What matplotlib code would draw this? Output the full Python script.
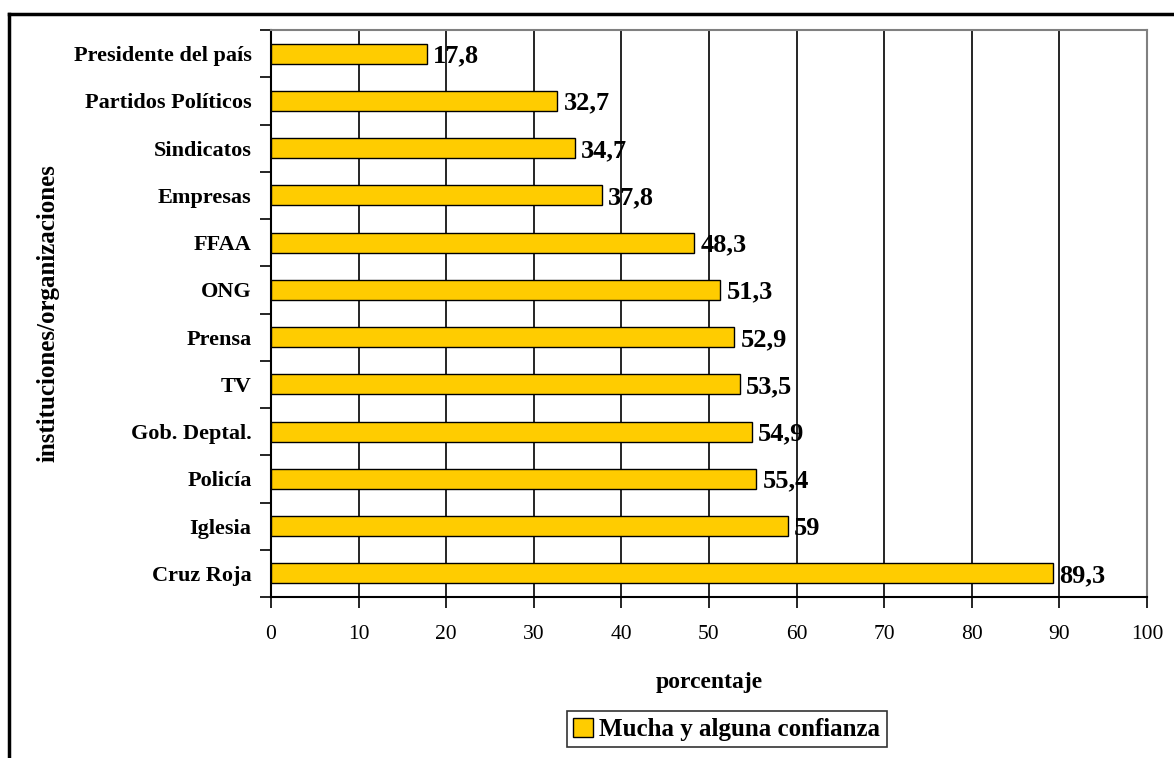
import numpy as np
import matplotlib.pyplot as plt
from matplotlib.lines import Line2D

###############################################################################
# Data: confidence in institutions (percent)
categorias = ["Presidente del país", "Partidos Políticos", "Sindicatos",
              "Empresas", "FFAA", "ONG", "Prensa", "TV", "Gob. Deptal.",
              "Policía", "Iglesia", "Cruz Roja"]
valores = [17.8, 32.7, 34.7, 37.8, 48.3, 51.3, 52.9, 53.5, 54.9, 55.4, 59, 89.3]
xticks = [0, 10, 20, 30, 40, 50, 60, 70, 80, 90, 100]
serie = "Mucha y alguna confianza"

###############################################################################
plt.rcParams['font.family'] = ['Liberation Serif', 'DejaVu Serif']

fig = plt.figure(figsize=(11.74, 7.58), dpi=100)
ax = fig.add_axes([0.2308, 0.2124, 0.7462, 0.7480])

y = np.arange(len(categorias))
ax.barh(y, valores, height=0.42, color="#FFCC00", edgecolor="black",
        linewidth=1.0, label=serie, zorder=3)

# value labels with decimal comma
for yi, v in zip(y, valores):
    txt = f"{v:g}".replace(".", ",")
    ax.text(v + 0.7, yi + 0.05, txt, va="center", ha="left",
            fontsize=19, fontweight="bold", zorder=4)

ax.set_xlim(0, 100)
ax.set_ylim(len(categorias) - 0.5, -0.5)

# x axis
ax.set_xticks(xticks)
ax.set_xticklabels([str(t) for t in xticks], fontsize=15.5)
ax.tick_params(axis="x", direction="out", length=8, width=1.2, pad=12)
ax.xaxis.grid(True, color="black", linewidth=1.2, zorder=0)
ax.set_xlabel("porcentaje", fontsize=17, fontweight="bold", labelpad=20)

# y axis: ticks on the boundaries, labels centred on the bars
ax.set_yticks(np.arange(len(categorias) + 1) - 0.5)
ax.set_yticklabels([])
ax.tick_params(axis="y", which="major", direction="out", length=8, width=1.2)
ax.set_yticks(y, minor=True)
ax.set_yticklabels(categorias, minor=True, fontsize=16, fontweight="bold")
ax.tick_params(axis="y", which="minor", length=0, pad=14)
ax.set_ylabel("instituciones/organizaciones", fontsize=18,
              fontweight="bold", labelpad=10)

for side in ("left", "bottom"):
    ax.spines[side].set_linewidth(1.5)
    ax.spines[side].set_color("black")
for side in ("top", "right"):
    ax.spines[side].set_linewidth(1.5)
    ax.spines[side].set_color("#808080")

# legend below the chart
leg = fig.legend(loc="center", bbox_to_anchor=(0.619, 0.038), frameon=True,
                 fancybox=False, edgecolor="black", handlelength=0.8,
                 handleheight=0.8, handletextpad=0.25, borderpad=0.25,
                 prop={"size": 18, "weight": "bold"})
leg.get_frame().set_linewidth(1.2)

# outer frame (top and left edges)
fig.add_artist(Line2D([9 / 1174, 1], [1 - 14 / 758, 1 - 14 / 758],
                      transform=fig.transFigure, color="black", linewidth=2.5))
fig.add_artist(Line2D([9 / 1174, 9 / 1174], [0, 1 - 14 / 758],
                      transform=fig.transFigure, color="black", linewidth=2.5))

fig.savefig("out.png", dpi=100)
